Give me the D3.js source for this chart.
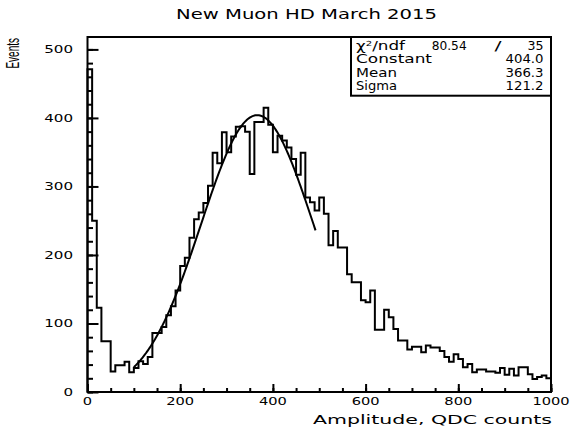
<!DOCTYPE html>
<html>
<head>
<meta charset="utf-8">
<script src="https://cdn.jsdelivr.net/npm/d3@7"></script>
<style>
  body { margin: 0; background: #fff; }
  svg { display: block; }
  text { font-family: "DejaVu Sans", "Liberation Sans", sans-serif; fill: #000; }
</style>
</head>
<body>
<svg id="chart" width="577" height="434"></svg>
<script>
// Muon QDC amplitude spectrum: 100 bins of width 10 over 0–1000 counts
const binWidth = 10;
const binLow = d3.range(0, 1000, binWidth);
const counts = [
  471, 250, 123, 74, 74, 30, 39, 39, 44, 29,
  35, 45, 41, 51, 86, 86, 95, 112, 125, 148,
  184, 196, 225, 252, 262, 276, 301, 349, 334, 379,
  350, 373, 387, 388, 380, 318, 394, 394, 415, 390,
  350, 374, 367, 357, 340, 317, 349, 284, 277, 265,
  284, 260, 214, 235, 211, 211, 172, 160, 160, 134,
  131, 148, 91, 91, 120, 109, 92, 75, 75, 62,
  66, 66, 58, 68, 65, 65, 60, 51, 44, 55,
  48, 36, 41, 29, 33, 33, 30, 30, 28, 35,
  25, 34, 24, 36, 36, 26, 19, 22, 24, 20
];

const xTicks = [0, 200, 400, 600, 800, 1000];
const yTicks = [0, 100, 200, 300, 400, 500];

// Gaussian fit result
const fitConstant = 404.0;
const fitMean = 366.3;
const fitSigma = 121.2;
const fitRange = [100, 492];
const chi2 = "80.54";
const ndf = "35";
const statNames = ["Constant", "Mean", "Sigma"];
const statValues = [fitConstant.toFixed(1), fitMean.toFixed(1), fitSigma.toFixed(1)];

const title = "New Muon HD March 2015";
const xTitle = "Amplitude, QDC counts";
const yTitle = "Events";

// ---- layout ----
const svg = d3.select("#chart");
const L = 87.5, R = 551, T = 37, B = 392;

const x = d3.scaleLinear().domain([0, 1000]).range([L, R]);
const y = d3.scaleLinear().domain([0, d3.max(counts) * 1.1]).range([B, T]);

// stretched text helper (wide plotting font)
function label(g, px, py, str, size, len, anchor) {
  const t = g.append("text")
    .attr("x", px).attr("y", py)
    .attr("font-size", size)
    .attr("text-anchor", anchor || "start")
    .text(str);
  if (len) t.attr("textLength", len).attr("lengthAdjust", "spacingAndGlyphs");
  return t;
}

// ---- histogram outline ----
const pts = [[0, 0]];
binLow.forEach((lo, i) => pts.push([lo, counts[i]]));
pts.push([1000, counts[counts.length - 1]]);
pts.push([1000, 0]);

svg.append("path")
  .attr("d", d3.line().x(d => x(d[0])).y(d => y(d[1])).curve(d3.curveStepAfter)(pts))
  .attr("fill", "none")
  .attr("stroke", "#000")
  .attr("stroke-width", 2)
  .attr("stroke-linejoin", "miter");

// ---- gaussian fit curve ----
const gauss = v => fitConstant * Math.exp(-0.5 * Math.pow((v - fitMean) / fitSigma, 2));
const fitPts = d3.range(fitRange[0], fitRange[1] + 0.001, 2).map(v => [v, gauss(v)]);
svg.append("path")
  .attr("d", d3.line().x(d => x(d[0])).y(d => y(d[1]))(fitPts))
  .attr("fill", "none")
  .attr("stroke", "#000")
  .attr("stroke-width", 2);

// ---- axes (ticks point into the frame) ----
const xMajor = svg.append("g").attr("transform", `translate(0,${B})`)
  .call(d3.axisBottom(x).tickValues(xTicks).tickSize(-8).tickFormat(""));
const xMinor = svg.append("g").attr("transform", `translate(0,${B})`)
  .call(d3.axisBottom(x).tickValues(d3.range(0, 1001, 50)).tickSize(-4).tickFormat(""));
const yMajor = svg.append("g").attr("transform", `translate(${L},0)`)
  .call(d3.axisLeft(y).tickValues(yTicks).tickSize(-11).tickFormat(""));
const yMinor = svg.append("g").attr("transform", `translate(${L},0)`)
  .call(d3.axisLeft(y).tickValues(d3.range(0, 501, 20)).tickSize(-5.5).tickFormat(""));
[xMajor, xMinor, yMajor, yMinor].forEach(g => {
  g.select(".domain").remove();
  g.selectAll("line").attr("stroke", "#000").attr("stroke-width", 2);
});

// tick labels
const lab = svg.append("g");
xTicks.forEach(v => {
  const s = String(v);
  label(lab, x(v), 405, s, 10.5, s.length * 9.3, "middle");
});
yTicks.forEach(v => {
  const s = String(v);
  label(lab, 73, y(v) + 3.8, s, 10.5, s.length * 9.6, "end");
});

// frame
svg.append("rect")
  .attr("x", L).attr("y", T).attr("width", R - L).attr("height", B - T)
  .attr("fill", "none").attr("stroke", "#000").attr("stroke-width", 2);

// axis titles
label(svg, R + 1, 423.5, xTitle, 12, 239, "end");
svg.append("g")
  .attr("transform", "translate(18.5,38) scale(1.8,1)")
  .append("text")
  .attr("transform", "rotate(-90)")
  .attr("text-anchor", "end")
  .style("font-size", "10px")
  .style("font-family", "'Liberation Sans', Arial, sans-serif")
  .text(yTitle);

// title
label(svg, 176, 18.5, title, 14, 261, "start");

// ---- statistics box ----
const box = svg.append("g");
const bx0 = 351, by0 = T, bx1 = R, by1 = 95.7;
box.append("rect")
  .attr("x", bx0).attr("y", by0).attr("width", bx1 - bx0).attr("height", by1 - by0)
  .attr("fill", "#fff").attr("stroke", "#000").attr("stroke-width", 2);

const rowY = [49.5, 63.3, 76.8, 90.2];
const chiText = box.append("text")
  .attr("x", 356).attr("y", rowY[0]).attr("font-size", 11.5)
  .attr("textLength", 49).attr("lengthAdjust", "spacingAndGlyphs");
chiText.append("tspan").text("χ");
chiText.append("tspan").attr("dy", -4).attr("font-size", 7).text("2");
chiText.append("tspan").attr("dy", 4).text("/ndf");
label(box, 431.7, rowY[0], chi2, 11.5, 35, "start");
label(box, 498, rowY[0], "/", 11.5, 7, "middle");
label(box, 543.5, rowY[0], ndf, 11.5, 16, "end");

const nameLen = [76, 41, 41];
statNames.forEach((n, i) => {
  label(box, 356, rowY[i + 1], n, 11.5, nameLen[i], "start");
  label(box, 543.5, rowY[i + 1], statValues[i], 11.5, 38, "end");
});
</script>
</body>
</html>
